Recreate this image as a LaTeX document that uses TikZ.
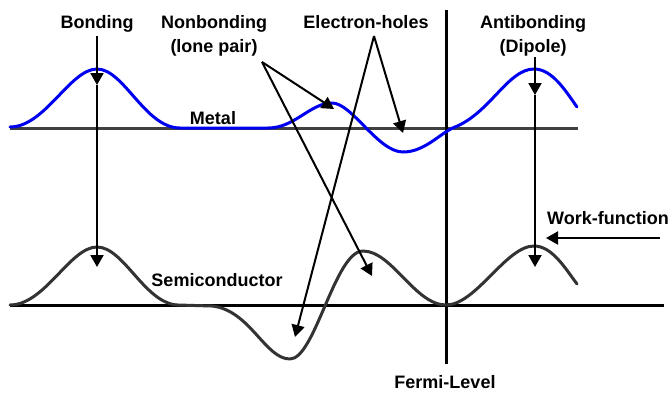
\documentclass[tikz,border=0pt]{standalone}
\usepackage{fontspec}
\setmainfont{Liberation Sans}
\usetikzlibrary{arrows.meta}
\definecolor{scgray}{HTML}{333333}
\definecolor{mgray}{HTML}{404040}
\definecolor{mblue}{HTML}{0000F0}
\begin{document}
\begin{tikzpicture}[x=1pt,y=-1pt,
  lbl/.style={font=\bfseries\fontsize{18}{22}\selectfont, inner sep=0pt, anchor=base},
  arr/.style={line width=2pt, -{Triangle[width=13pt,length=12pt]}},
  curve/.style={line width=3pt, line cap=round, line join=round},
  base/.style={line width=3pt}]
\useasboundingbox (0,0) rectangle (672,392);

% labels
\node[lbl] (bond) at (97,28) {Bonding};
\node[lbl] (nb1) at (214,28) {Nonbonding};
\node[lbl] (nb2) at (214,52) {(lone pair)};
\node[lbl] (eh) at (366,28) {Electron-holes};
\node[lbl] (ab1) at (533,28) {Antibonding};
\node[lbl] (ab2) at (533,52) {(Dipole)};
\node[lbl] (metal) at (213,124) {Metal};
\node[lbl] (semi) at (217,286) {Semiconductor};
\node[lbl] (wf) at (608,224) {Work-function};
\node[lbl] (fermi) at (445,388) {Fermi-Level};

% coordinates
\coordinate (mL) at (10,128);
\coordinate (mR) at (578,128);
\coordinate (sL) at (10,305);
\coordinate (sR) at (664,305);
\coordinate (fT) at (446,10);
\coordinate (fB) at (446,364);
\coordinate (bondMid) at (97,85);
\coordinate (bondLow) at (97,267);
\coordinate (abTop) at (535,57);
\coordinate (abMid) at (535,95);
\coordinate (abLow) at (535,267);
\coordinate (nbS) at (262,62);
\coordinate (nbT1) at (334,109);
\coordinate (nbT2) at (372,276);
\coordinate (ehS) at (374,36);
\coordinate (ehT1) at (403,133);
\coordinate (ehT2) at (295,337);
\coordinate (wfS) at (660,238);
\coordinate (wfT) at (546,238);

% base lines
\draw[base, mgray] (mL) -- (mR);
\draw[base, black] (sL) -- (sR);
\draw[base, black] (fT) -- (fB);

% metal curve
\draw[curve, mblue] (10,127) .. controls (45,127) and (70,69) .. (97,69)
  .. controls (124,69) and (145,128) .. (180,128) -- (268,128)
  .. controls (295,128) and (310,103) .. (332,103)
  .. controls (352,103) and (378,152) .. (403,152)
  .. controls (425,152) and (440,133) .. (455,127)
  .. controls (490,113) and (508,69) .. (534,69)
  .. controls (552,69) and (565,90) .. (577,107);

% semiconductor curve
\draw[curve, scgray] (10,305) .. controls (45,305) and (70,247) .. (97,247)
  .. controls (124,247) and (145,304) .. (178,305) -- (212,306)
  .. controls (250,310) and (265,359) .. (290,359)
  .. controls (315,359) and (335,251) .. (363,251)
  .. controls (392,251) and (415,305) .. (446,305)
  .. controls (476,305) and (506,246) .. (534,246)
  .. controls (552,246) and (565,268) .. (577,284);

% arrows
\draw[arr] ([yshift=-4pt]bond.south) -- (bondMid);
\draw[arr] (bondMid) -- (bondLow);
\draw[arr] (abTop) -- (abMid);
\draw[arr] (abMid) -- (abLow);
\draw[arr] (nbS) -- (nbT1);
\draw[arr] (nbS) -- (nbT2);
\draw[arr] (ehS) -- (ehT1);
\draw[arr] (ehS) -- (ehT2);
\draw[arr] (wfS) -- (wfT);
\end{tikzpicture}
\end{document}
